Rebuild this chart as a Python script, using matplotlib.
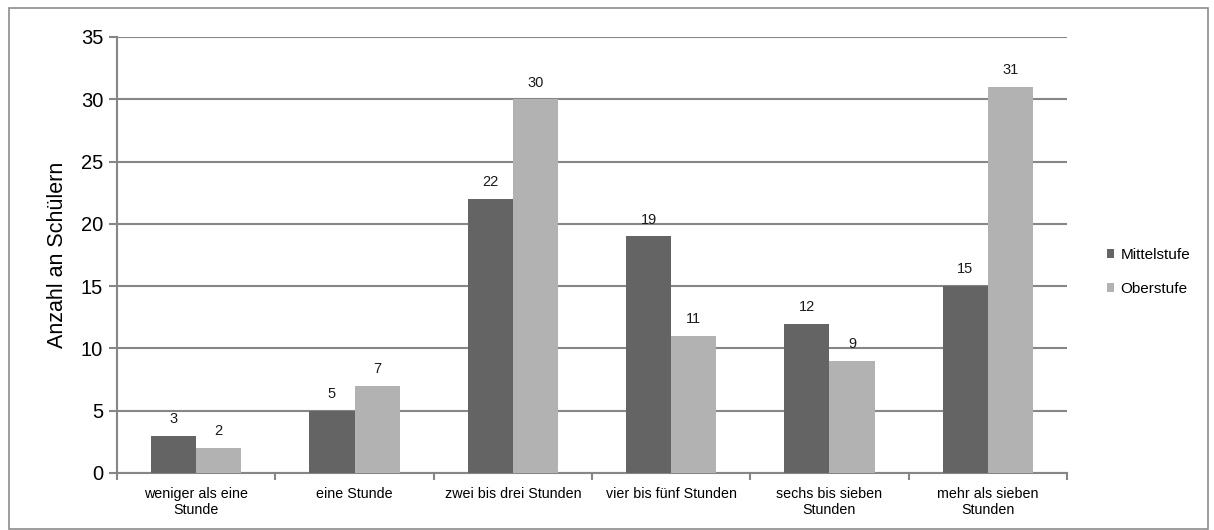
"""Bar chart: Anzahl an Schülern nach Stunden (Mittelstufe vs. Oberstufe)."""
import matplotlib

matplotlib.use("Agg")
import matplotlib.pyplot as plt
import numpy as np
from matplotlib.patches import Rectangle

categories = [
    "weniger als eine\nStunde",
    "eine Stunde",
    "zwei bis drei Stunden",
    "vier bis fünf Stunden",
    "sechs bis sieben\nStunden",
    "mehr als sieben\nStunden",
]
mittelstufe = [3, 5, 22, 19, 12, 15]
oberstufe = [2, 7, 30, 11, 9, 31]
series_names = ["Mittelstufe", "Oberstufe"]
yticks = [0, 5, 10, 15, 20, 25, 30, 35]

DARK = "#646464"
LIGHT = "#b2b2b2"
GRID = "#868686"

plt.rcParams["font.family"] = ["Liberation Sans", "DejaVu Sans"]

W, H = 1214, 530
fig = plt.figure(figsize=(W / 100, H / 100), dpi=100)
ax = fig.add_axes([117 / W, 1 - 473 / H, (1067 - 117) / W, (473 - 37) / H])

x = np.arange(len(categories))
bw = 0.285
b1 = ax.bar(x - bw / 2, mittelstufe, bw, color=DARK, label=series_names[0], zorder=3)
b2 = ax.bar(x + bw / 2, oberstufe, bw, color=LIGHT, label=series_names[1], zorder=3)
for bars in (b1, b2):
    for r in bars:
        ax.annotate(f"{int(r.get_height())}", (r.get_x() + r.get_width() / 2, r.get_height()),
                    xytext=(0, 7), textcoords="offset points", ha="center", va="bottom",
                    fontsize=10.5, color="#1a1a1a")

ax.set_xlim(-0.5, len(categories) - 0.5)
ax.set_ylim(0, 35)
ax.set_yticks(yticks)
ax.tick_params(axis="y", labelsize=14.5, length=6, width=1.5, color=GRID, pad=4)
ax.yaxis.grid(True, color=GRID, linewidth=1.5, zorder=0)

# category labels sit between the boundary ticks
ax.set_xticks(np.arange(len(categories) + 1) - 0.5)
ax.set_xticklabels([])
ax.set_xticks(x, minor=True)
ax.set_xticklabels(categories, minor=True, fontsize=10.3, linespacing=1.15)
ax.tick_params(axis="x", which="major", length=5, width=1.5, color=GRID)
ax.tick_params(axis="x", which="minor", length=0, pad=10)

for side in ("top", "right"):
    ax.spines[side].set_visible(False)
for side in ("left", "bottom"):
    ax.spines[side].set_color(GRID)
    ax.spines[side].set_linewidth(1.5)

ax.set_ylabel("Anzahl an Schülern", fontsize=15.5, labelpad=9)

fig.legend(loc="center left", bbox_to_anchor=(1093 / W, 1 - 272 / H), frameon=False,
           fontsize=11, handlelength=0.5, handleheight=0.5, handletextpad=0.4,
           labelspacing=1.3)

fig.patches.append(Rectangle((9 / W, 1 / H), (1208 - 9) / W, (522 - 1) / H,
                             transform=fig.transFigure, fill=False,
                             edgecolor="#8c8c8c", linewidth=1.2))

fig.savefig("out.png", dpi=100)
